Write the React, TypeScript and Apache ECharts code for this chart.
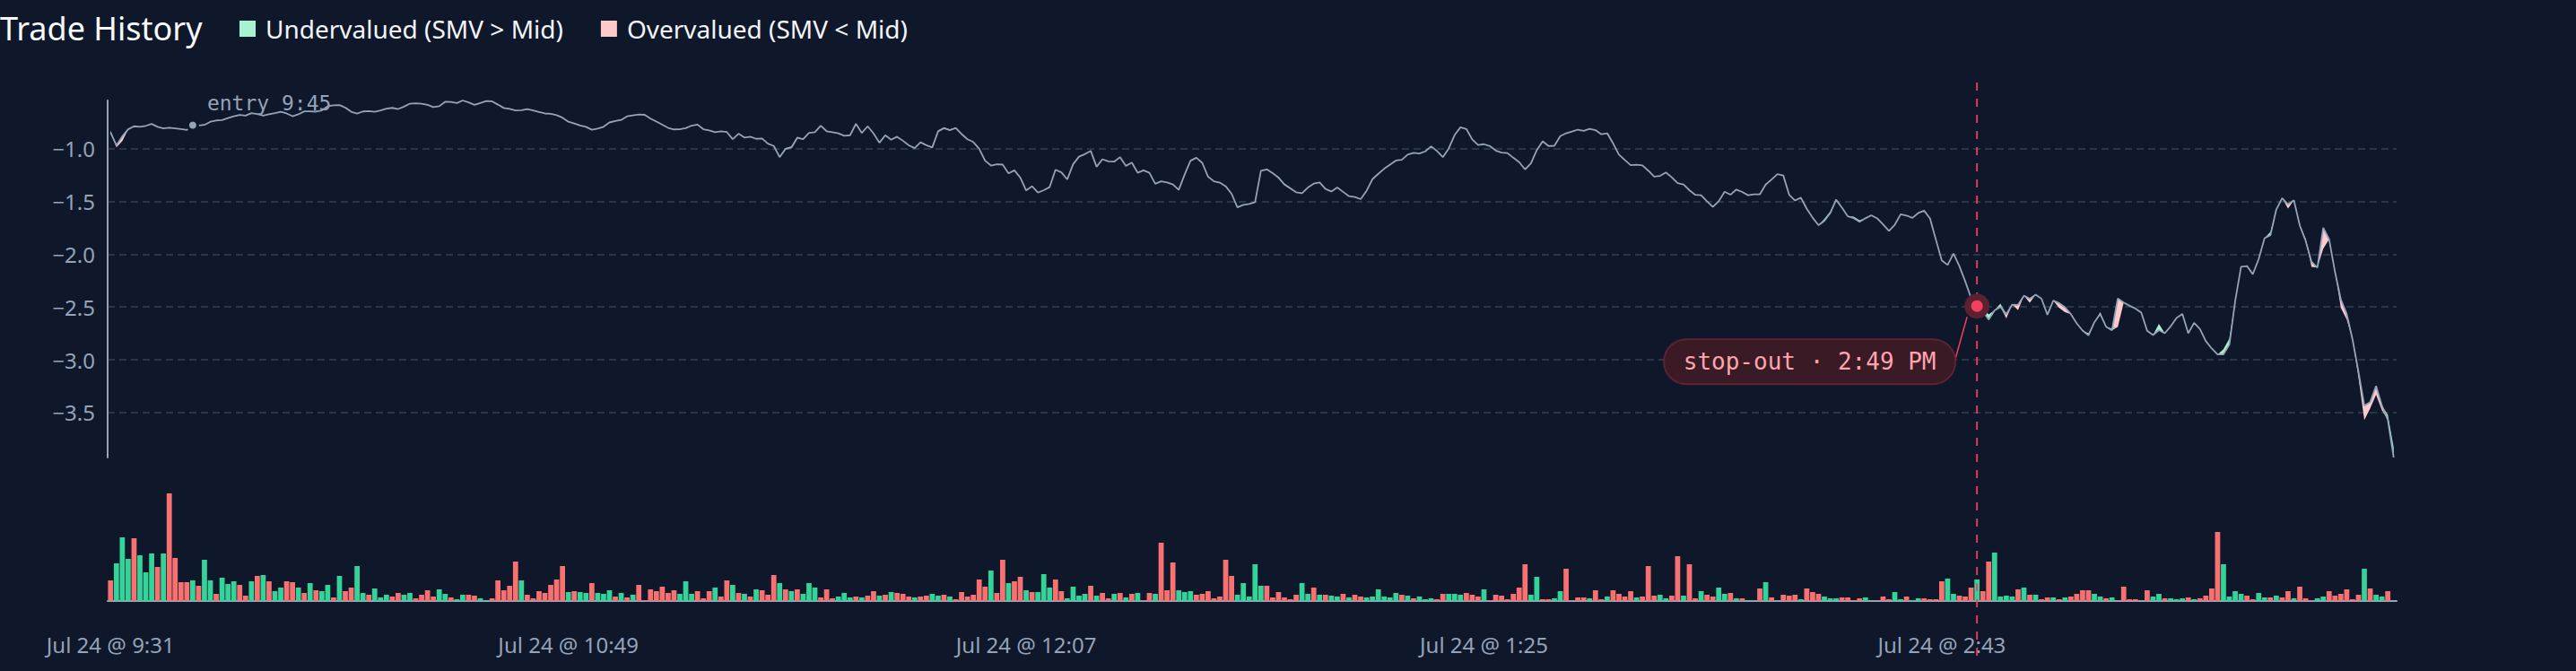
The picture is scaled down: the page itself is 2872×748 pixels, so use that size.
import React, { useEffect, useRef } from "react";
import * as echarts from "echarts";

// Mid price path (one value per minute, 9:31 → 16:00)
const midValues: number[] = [
  -0.85, -0.97, -0.885, -0.819, -0.79, -0.796, -0.786, -0.768, -0.795, -0.81,
  -0.803, -0.81, -0.817, -0.825, -0.78, -0.782, -0.777, -0.747, -0.735, -0.731,
  -0.712, -0.696, -0.683, -0.689, -0.666, -0.674, -0.69, -0.677, -0.666, -0.654,
  -0.669, -0.695, -0.677, -0.649, -0.649, -0.652, -0.64, -0.601, -0.591, -0.59,
  -0.614, -0.653, -0.67, -0.65, -0.646, -0.654, -0.64, -0.624, -0.616, -0.627,
  -0.604, -0.576, -0.572, -0.577, -0.588, -0.608, -0.6, -0.558, -0.56, -0.571,
  -0.546, -0.564, -0.588, -0.571, -0.552, -0.554, -0.585, -0.617, -0.626, -0.64,
  -0.639, -0.628, -0.641, -0.655, -0.669, -0.673, -0.685, -0.709, -0.747, -0.763,
  -0.783, -0.795, -0.823, -0.812, -0.795, -0.754, -0.741, -0.73, -0.696, -0.687,
  -0.678, -0.682, -0.718, -0.746, -0.775, -0.805, -0.82, -0.818, -0.808, -0.784,
  -0.774, -0.818, -0.83, -0.846, -0.838, -0.845, -0.912, -0.861, -0.897, -0.889,
  -0.909, -0.906, -0.955, -0.977, -1.082, -1.005, -0.991, -0.9, -0.912, -0.852,
  -0.847, -0.784, -0.837, -0.847, -0.857, -0.88, -0.875, -0.767, -0.853, -0.79,
  -0.858, -0.946, -0.875, -0.918, -0.889, -0.927, -0.97, -0.997, -0.942, -0.969,
  -0.991, -0.838, -0.808, -0.828, -0.807, -0.864, -0.913, -0.939, -1.003, -1.116,
  -1.162, -1.15, -1.153, -1.236, -1.207, -1.276, -1.398, -1.358, -1.418, -1.395,
  -1.366, -1.202, -1.226, -1.293, -1.15, -1.078, -1.054, -1.023, -1.173, -1.102,
  -1.122, -1.125, -1.082, -1.165, -1.134, -1.23, -1.207, -1.23, -1.335, -1.311,
  -1.321, -1.341, -1.392, -1.247, -1.116, -1.088, -1.136, -1.268, -1.311, -1.323,
  -1.358, -1.429, -1.557, -1.534, -1.526, -1.509, -1.211, -1.198, -1.234, -1.277,
  -1.342, -1.379, -1.415, -1.424, -1.37, -1.333, -1.322, -1.384, -1.407, -1.37,
  -1.411, -1.452, -1.46, -1.48, -1.401, -1.291, -1.24, -1.192, -1.153, -1.114,
  -1.107, -1.059, -1.042, -1.048, -1.028, -0.98, -1.025, -1.082, -1.0, -0.873,
  -0.8, -0.816, -0.914, -0.968, -0.96, -0.977, -1.02, -1.039, -1.044, -1.088,
  -1.13, -1.198, -1.141, -1.017, -0.932, -0.977, -0.975, -0.884, -0.856, -0.84,
  -0.822, -0.833, -0.814, -0.827, -0.866, -0.856, -0.952, -1.058, -1.11, -1.158,
  -1.154, -1.161, -1.21, -1.266, -1.26, -1.227, -1.273, -1.329, -1.34, -1.395,
  -1.439, -1.443, -1.5, -1.554, -1.5, -1.41, -1.438, -1.389, -1.412, -1.443,
  -1.434, -1.435, -1.342, -1.294, -1.243, -1.256, -1.438, -1.493, -1.466, -1.571,
  -1.655, -1.726, -1.686, -1.612, -1.485, -1.561, -1.643, -1.66, -1.694, -1.661,
  -1.633, -1.662, -1.718, -1.781, -1.722, -1.623, -1.635, -1.657, -1.611, -1.589,
  -1.662, -1.863, -2.06, -2.103, -1.995, -2.114, -2.258, -2.416, -2.492, -2.543,
  -2.62, -2.532, -2.5, -2.568, -2.478, -2.48, -2.394, -2.422, -2.385, -2.422,
  -2.574, -2.441, -2.464, -2.503, -2.568, -2.656, -2.724, -2.769, -2.645, -2.567,
  -2.687, -2.721, -2.419, -2.458, -2.489, -2.515, -2.554, -2.726, -2.766, -2.72,
  -2.749, -2.684, -2.605, -2.566, -2.749, -2.65, -2.709, -2.825, -2.893, -2.95,
  -2.949, -2.858, -2.443, -2.12, -2.113, -2.19, -2.047, -1.849, -1.821, -1.578,
  -1.471, -1.529, -1.491, -1.728, -1.874, -2.072, -2.128, -1.75, -1.86, -2.168,
  -2.43, -2.566, -2.811, -3.113, -3.434, -3.4, -3.248, -3.434, -3.567, -3.925,
];

// SMV values where they depart from the mid: [minute index, smv]
const smvPoints: [number, number][] = [
  [0, -0.83], [1, -0.99], [2, -0.93],
  [115, -0.995], [116, -0.981], [117, -0.89],
  [141, -0.83], [142, -0.8], [143, -0.82], [144, -0.8],
  [199, -1.267], [200, -1.332], [201, -1.37],
  [292, -1.666], [293, -1.597], [297, -1.645], [298, -1.68],
  [319, -2.51], [320, -2.57], [322, -2.47], [323, -2.61],
  [325, -2.53], [327, -2.46], [332, -2.51], [333, -2.55],
  [337, -2.75], [339, -2.55], [341, -2.705], [342, -2.69],
  [349, -2.66], [360, -2.9], [361, -2.8], [368, -1.79],
  [371, -1.57], [374, -1.855], [375, -2.12], [377, -1.95],
  [380, -2.51], [381, -2.62], [383, -3.17], [384, -3.57], [385, -3.46],
  [386, -3.33], [387, -3.48], [388, -3.52], [389, -3.83],
];

// Volume per minute and side (G = buy / green, R = sell / red)
const volumeValues: number[] = [
  23, 42, 71, 47, 70, 51, 32, 53, 38, 53,
  120, 48, 21, 21, 23, 17, 46, 23, 8, 26,
  19, 22, 18, 6, 22, 28, 29, 22, 11, 15,
  22, 21, 15, 9, 20, 12, 11, 18, 4, 28,
  11, 15, 39, 9, 7, 14, 4, 7, 5, 9,
  7, 9, 3, 7, 12, 5, 13, 8, 4, 2,
  7, 7, 6, 3, 1, 3, 23, 12, 17, 44,
  23, 7, 3, 11, 9, 18, 24, 39, 10, 11,
  10, 9, 20, 9, 8, 12, 5, 9, 4, 7,
  18, 1, 13, 11, 16, 9, 12, 8, 22, 8,
  11, 3, 11, 15, 5, 23, 18, 9, 8, 5,
  13, 12, 7, 29, 20, 13, 11, 13, 8, 20,
  15, 4, 13, 3, 5, 9, 4, 5, 4, 6,
  11, 6, 7, 10, 9, 8, 5, 4, 5, 6,
  8, 6, 7, 5, 2, 10, 5, 7, 24, 16,
  34, 9, 46, 20, 22, 27, 12, 10, 10, 30,
  15, 24, 11, 3, 16, 6, 8, 17, 6, 9,
  3, 8, 9, 4, 8, 9, 1, 9, 8, 65,
  12, 43, 12, 10, 11, 7, 8, 11, 3, 5,
  46, 28, 7, 20, 5, 41, 17, 17, 4, 10,
  4, 2, 7, 20, 8, 15, 7, 7, 6, 5,
  8, 4, 7, 5, 4, 5, 13, 5, 4, 9,
  7, 6, 3, 5, 2, 3, 2, 8, 8, 8,
  7, 9, 7, 5, 13, 1, 7, 6, 2, 8,
  15, 41, 7, 27, 2, 2, 3, 11, 36, 0.5,
  4, 4, 3, 12, 2, 5, 12, 8, 5, 11,
  4, 5, 39, 6, 7, 3, 6, 50, 6, 41,
  3, 11, 7, 5, 15, 8, 9, 3, 3, 0.7,
  0.7, 14, 21, 4, 0.3, 7, 6, 7, 2, 14,
  10, 8, 5, 3, 3, 4, 4, 1, 3, 4,
  0.3, 0.3, 5, 2, 10, 2, 5, 1, 3, 3,
  2, 2, 22, 25, 8, 6, 5, 15, 24, 11,
  44, 54, 5, 6, 5, 13, 15, 7, 7, 2,
  4, 4, 2, 4, 5, 8, 12, 12, 8, 5,
  3, 4, 0.3, 16, 2, 2, 0.3, 12, 5, 8,
  3, 3, 2, 3, 4, 2, 3, 6, 14, 77,
  41, 5, 11, 8, 6, 2, 9, 4, 4, 6,
  4, 11, 3, 16, 3, 1, 3, 5, 11, 6,
  8, 13, 2, 7, 36, 14, 7, 5, 11, 0,
];

const volumeSides =
  "RGGGRGGGRG" + "RRRRGRGGRG" + "GGRRGRGRGG" + "RRGRGRGGRG" + "RRGGRGGGRR" +
  "GGRRRRGGRG" + "GRRGGRRRRR" + "GRRRRRRRGR" + "GGRGGGRGRG" + "RRRRRRRGGG" +
  "RRRGRRGRGR" + "GRRRGRGRGG" + "GRRRGGGRGR" + "RGRGRRRGRR" + "GGRGRRRRRR" +
  "GRRGRRGRGG" + "GRRGGGGRGR" + "RGRGRGRRGR" + "RRGGGRRRRR" + "RRGGGGGRRR" +
  "RRRGGRGRGG" + "RGRRGGGGGG" + "RGRGGGRRGG" + "GRRRGRRRRR" + "RRGGRRGGRR" +
  "RRGRRGRRRR" + "GRRRGGRRGR" + "RGRRGGRGRG" + "GRGRGRRRGR" + "RRGGGRRRRG" +
  "GRRRGGRGGR" + "RRRGGRRRGR" + "RGGGGRGRGR" + "RGRGRRRRGG" + "RGRRRRRRGG" +
  "RGGGRGRRRR" + "GGGGRRGGRG" + "RRGRRRGGRR" + "RRRRGRGGRG";

const sessionStartMinute = 9 * 60 + 31;
const sessionLength = 390;
const dateLabel = "Jul 24";
const entryIndex = 14;
const stopIndex = 318;
const entryLabel = "entry 9:45";
const stopLabel = "stop-out · 2:49 PM";
const titleText = "Trade History";
const undervaluedName = "Undervalued (SMV > Mid)";
const overvaluedName = "Overvalued (SMV < Mid)";

const categories: string[] = Array.from({ length: sessionLength }, (_, i) => {
  const t = sessionStartMinute + i;
  const h = Math.floor(t / 60);
  const m = t % 60;
  const h12 = h > 12 ? h - 12 : h;
  return `${h12}:${String(m).padStart(2, "0")}`;
});

const BG = "#0f172a";
const SLATE = "#94a3b8";
const GREEN_FILL = "#a7f3d0";
const PINK_FILL = "#fecaca";
const ROSE = "#f43f5e";
const SANS = "Noto Sans";
const MONO = "DejaVu Sans Mono";

export default function App() {
  const ref = useRef<HTMLDivElement>(null);

  useEffect(() => {
    const el = ref.current;
    if (!el) return;
    const chart = echarts.init(el, null, { renderer: "svg" });

    const smvMap = new Map<number, number>(smvPoints);
    const smv = midValues.map((v, i) => (smvMap.has(i) ? (smvMap.get(i) as number) : v));
    const base = midValues.map((v, i) => Math.min(v, smv[i]));
    const above = midValues.map((v, i) => Math.max(smv[i] - v, 0));
    const below = midValues.map((v, i) => Math.max(v - smv[i], 0));
    const yMin = Math.min(...midValues);
    const yMax = Math.max(...midValues);
    const volMax = Math.max(...volumeValues);

    const option: any = {
      animation: false,
      backgroundColor: BG,
      title: {
        text: titleText,
        left: 0,
        top: 13,
        padding: 0,
        textStyle: { color: "#f8fafc", fontSize: 36, fontWeight: "normal", fontFamily: SANS },
      },
      legend: {
        left: 267,
        top: 18,
        padding: 0,
        itemWidth: 18,
        itemHeight: 18,
        itemGap: 42,
        selectedMode: false,
        icon: "rect",
        textStyle: { color: "#f1f5f9", fontSize: 28, fontFamily: SANS, padding: [0, 0, 0, 6] },
        data: [
          { name: undervaluedName, icon: "rect", itemStyle: { color: GREEN_FILL } },
          { name: overvaluedName, icon: "rect", itemStyle: { color: PINK_FILL } },
        ],
      },
      grid: [
        { left: 120, right: 200, top: 112, height: 398 },
        { left: 120, right: 200, top: 550, height: 120 },
      ],
      xAxis: [
        { type: "category", gridIndex: 0, data: categories, boundaryGap: true, show: false },
        {
          type: "category",
          gridIndex: 1,
          data: categories,
          boundaryGap: true,
          offset: 16,
          axisLine: { show: true, lineStyle: { color: SLATE, width: 2 } },
          axisTick: { show: false },
          axisLabel: {
            interval: 77,
            color: SLATE,
            fontSize: 24,
            fontFamily: SANS,
            margin: 20,
            formatter: (v: string) => `${dateLabel} @ ${v}`,
          },
          splitLine: { show: false },
        },
      ],
      yAxis: [
        {
          type: "value",
          gridIndex: 0,
          min: yMin,
          max: yMax,
          axisLine: { show: true, lineStyle: { color: SLATE, width: 2 } },
          axisTick: { show: false },
          axisLabel: {
            color: SLATE,
            fontSize: 24,
            fontFamily: SANS,
            margin: 14,
            showMinLabel: false,
            showMaxLabel: false,
            formatter: (v: number) => (v < 0 ? "\u2212" : "") + Math.abs(v).toFixed(1),
          },
          splitLine: {
            show: true,
            showMinLine: false,
            showMaxLine: false,
            lineStyle: { color: "#334155", width: 1.5, type: [8, 5] },
          },
        },
        { type: "value", gridIndex: 1, min: 0, max: volMax, show: false, splitLine: { show: false } },
      ],
      series: [
        {
          name: "base",
          type: "line",
          xAxisIndex: 0,
          yAxisIndex: 0,
          stack: "smv",
          stackStrategy: "all",
          data: base,
          symbol: "none",
          silent: true,
          lineStyle: { width: 0, opacity: 0 },
        },
        {
          name: undervaluedName,
          type: "line",
          xAxisIndex: 0,
          yAxisIndex: 0,
          stack: "smv",
          stackStrategy: "all",
          data: above,
          symbol: "none",
          silent: true,
          itemStyle: { color: GREEN_FILL },
          lineStyle: { width: 0, opacity: 0 },
          areaStyle: { color: GREEN_FILL, opacity: 1 },
        },
        {
          name: overvaluedName,
          type: "line",
          xAxisIndex: 0,
          yAxisIndex: 0,
          stack: "smv",
          stackStrategy: "all",
          data: below,
          symbol: "none",
          silent: true,
          itemStyle: { color: PINK_FILL },
          lineStyle: { width: 0, opacity: 0 },
          areaStyle: { color: PINK_FILL, opacity: 1 },
        },
        {
          name: "mid",
          type: "line",
          xAxisIndex: 0,
          yAxisIndex: 0,
          data: midValues,
          symbol: "none",
          silent: true,
          lineStyle: { color: SLATE, width: 1.8 },
          z: 5,
        },
        {
          name: "volume",
          type: "bar",
          xAxisIndex: 1,
          yAxisIndex: 1,
          barCategoryGap: "12%",
          silent: true,
          data: volumeValues.map((v, i) => ({
            value: v,
            itemStyle: { color: volumeSides[i] === "G" ? "#34d399" : "#f87171" },
          })),
        },
      ],
    };

    chart.setOption(option);

    const [sx, sy] = chart.convertToPixel({ gridIndex: 0 }, [stopIndex, midValues[stopIndex]]) as number[];
    const [ex, ey] = chart.convertToPixel({ gridIndex: 0 }, [entryIndex, midValues[entryIndex]]) as number[];

    const pillW = 325;
    const pillH = 50;
    const pillRight = sx - 24;
    const pillCy = sy + 62;

    chart.setOption({
      graphic: [
        {
          type: "line",
          z: 100,
          silent: true,
          shape: { x1: sx, y1: 92, x2: sx, y2: 732 },
          style: { stroke: ROSE, lineWidth: 2, lineDash: [9, 9], opacity: 0.9 },
        },
        {
          type: "line",
          z: 100,
          silent: true,
          shape: { x1: pillRight - 1, y1: pillCy, x2: sx - 11, y2: sy + 12 },
          style: { stroke: ROSE, lineWidth: 1.5 },
        },
        {
          type: "rect",
          z: 100,
          silent: true,
          shape: { x: pillRight - pillW, y: pillCy - pillH / 2, width: pillW, height: pillH, r: pillH / 2 },
          style: { fill: "#3a1a25", stroke: "#5f2232", lineWidth: 2 },
        },
        {
          type: "text",
          z: 101,
          silent: true,
          x: pillRight - pillW / 2,
          y: pillCy,
          style: {
            text: stopLabel,
            fill: "#fda4af",
            fontSize: 26,
            fontFamily: MONO,
            align: "center",
            verticalAlign: "middle",
          },
        },
        {
          type: "circle",
          z: 102,
          silent: true,
          shape: { cx: sx, cy: sy, r: 14 },
          style: { fill: "#5b2130" },
        },
        {
          type: "circle",
          z: 103,
          silent: true,
          shape: { cx: sx, cy: sy, r: 6.5 },
          style: { fill: ROSE },
        },
        {
          type: "circle",
          z: 102,
          silent: true,
          shape: { cx: ex, cy: ey, r: 5.5 },
          style: { fill: SLATE, stroke: BG, lineWidth: 3 },
        },
        {
          type: "text",
          z: 102,
          silent: true,
          x: ex + 16,
          y: ey - 25,
          style: {
            text: entryLabel,
            fill: SLATE,
            fontSize: 23,
            fontFamily: MONO,
            align: "left",
            verticalAlign: "middle",
          },
        },
      ],
    });

    return () => {
      chart.dispose();
    };
  }, []);

  return (
    <div
      ref={ref}
      style={{ position: "fixed", left: 0, top: 0, width: 2872, height: 748, background: BG }}
    />
  );
}
